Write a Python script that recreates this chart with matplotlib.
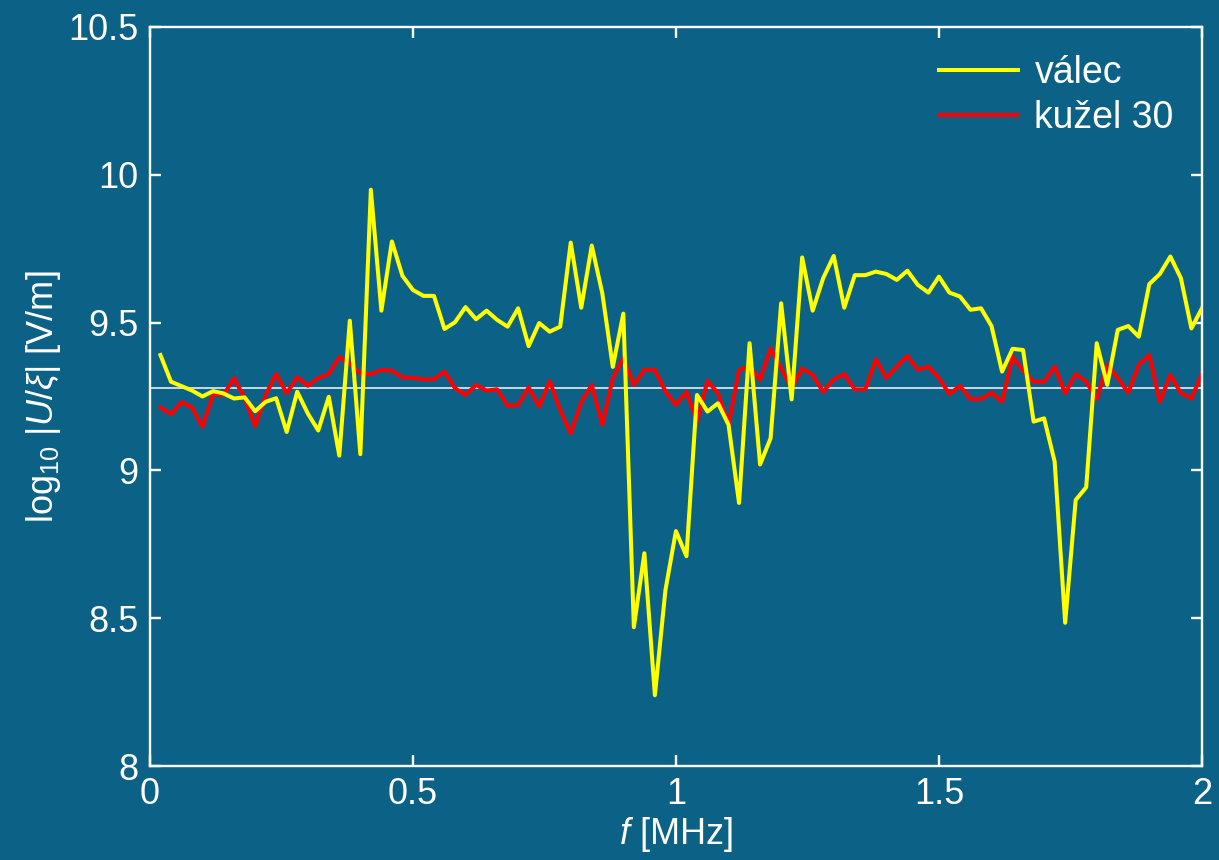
import numpy as np
import matplotlib
matplotlib.use('Agg')
from matplotlib import pyplot as plt

plt.rcParams['font.family'] = ['Liberation Sans', 'DejaVu Sans']
plt.rcParams['mathtext.fontset'] = 'custom'
plt.rcParams['mathtext.rm'] = 'Liberation Sans'
plt.rcParams['mathtext.it'] = 'Liberation Sans:italic'

# frequency axis, MHz
freq = np.arange(1, 101) * 0.02

valec = [9.39, 9.30, 9.285, 9.27, 9.25, 9.268, 9.26, 9.243, 9.247, 9.20,
         9.232, 9.244, 9.13, 9.266, 9.193, 9.135, 9.249, 9.05, 9.506, 9.055,
         9.949, 9.54, 9.774, 9.658, 9.61, 9.59, 9.59, 9.478, 9.501, 9.552,
         9.511, 9.54, 9.509, 9.486, 9.548, 9.42, 9.498, 9.469, 9.486, 9.77,
         9.55, 9.76, 9.599, 9.35, 9.53, 8.47, 8.72, 8.24, 8.595, 8.795,
         8.71, 9.255, 9.199, 9.227, 9.154, 8.89, 9.43, 9.02, 9.109, 9.565,
         9.24, 9.72, 9.54, 9.65, 9.725, 9.55, 9.66, 9.66, 9.672, 9.664,
         9.644, 9.675, 9.627, 9.601, 9.655, 9.601, 9.588, 9.543, 9.548, 9.488,
         9.334, 9.411, 9.407, 9.165, 9.176, 9.03, 8.485, 8.9, 8.943, 9.43,
         9.289, 9.475, 9.488, 9.452, 9.63, 9.664, 9.723, 9.65, 9.48, 9.548]

kuzel = [9.213, 9.19, 9.231, 9.213, 9.148, 9.257, 9.255, 9.312, 9.244, 9.15,
         9.255, 9.326, 9.261, 9.315, 9.286, 9.312, 9.326, 9.383, 9.362, 9.328,
         9.325, 9.34, 9.337, 9.315, 9.313, 9.308, 9.308, 9.334, 9.278, 9.255,
         9.289, 9.27, 9.274, 9.219, 9.221, 9.281, 9.216, 9.302, 9.204, 9.125,
         9.232, 9.289, 9.154, 9.312, 9.379, 9.289, 9.34, 9.34, 9.268, 9.221,
         9.266, 9.165, 9.303, 9.261, 9.154, 9.34, 9.351, 9.306, 9.413, 9.345,
         9.278, 9.345, 9.323, 9.266, 9.308, 9.326, 9.274, 9.274, 9.376, 9.312,
         9.351, 9.387, 9.34, 9.351, 9.312, 9.258, 9.286, 9.241, 9.241, 9.263,
         9.232, 9.385, 9.337, 9.30, 9.30, 9.351, 9.261, 9.326, 9.30, 9.241,
         9.357, 9.312, 9.263, 9.357, 9.39, 9.232, 9.323, 9.261, 9.244, 9.326]

ref_level = 9.28

xticks = [0, 0.5, 1, 1.5, 2]
xticklabels = ['0', '0.5', '1', '1.5', '2']
yticks = [8, 8.5, 9, 9.5, 10, 10.5]
yticklabels = ['8', '8.5', '9', '9.5', '10', '10.5']

bg = '#0c6286'
fs = 26

fig = plt.figure(figsize=(12.19, 8.6), dpi=100, facecolor=bg)
ax = fig.add_axes([0.123, 0.109, 0.863, 0.860], facecolor=bg)

ax.axhline(ref_level, color='#e8eef2', lw=1.2, zorder=1)
ax.plot(freq, valec, color='#ffff00', lw=2.9, label='válec', zorder=3)
ax.plot(freq, kuzel, color='#ff0000', lw=2.9, label='kužel 30', zorder=2)

ax.set_xlim(0, 2)
ax.set_ylim(8, 10.5)
ax.set_xticks(xticks)
ax.set_xticklabels(xticklabels)
ax.set_yticks(yticks)
ax.set_yticklabels(yticklabels)

for s in ax.spines.values():
    s.set_color('white')
    s.set_linewidth(1.7)
ax.tick_params(direction='in', length=8, width=1.7, colors='white',
               labelsize=fs, top=True, right=True, pad=8)

ax.set_xlabel(r'$f$ [MHz]', color='white', fontsize=fs, labelpad=2)
ax.set_ylabel(r'log$_{10}$ $|U/\xi|$ [V/m]', color='white', fontsize=fs, labelpad=4)

leg = ax.legend(loc='upper right', frameon=False, fontsize=27, handlelength=2.1,
                handletextpad=0.45, borderaxespad=0.35, labelspacing=0.25)
for t in leg.get_texts():
    t.set_color('white')

plt.savefig('out.png', dpi=100, facecolor=bg)
